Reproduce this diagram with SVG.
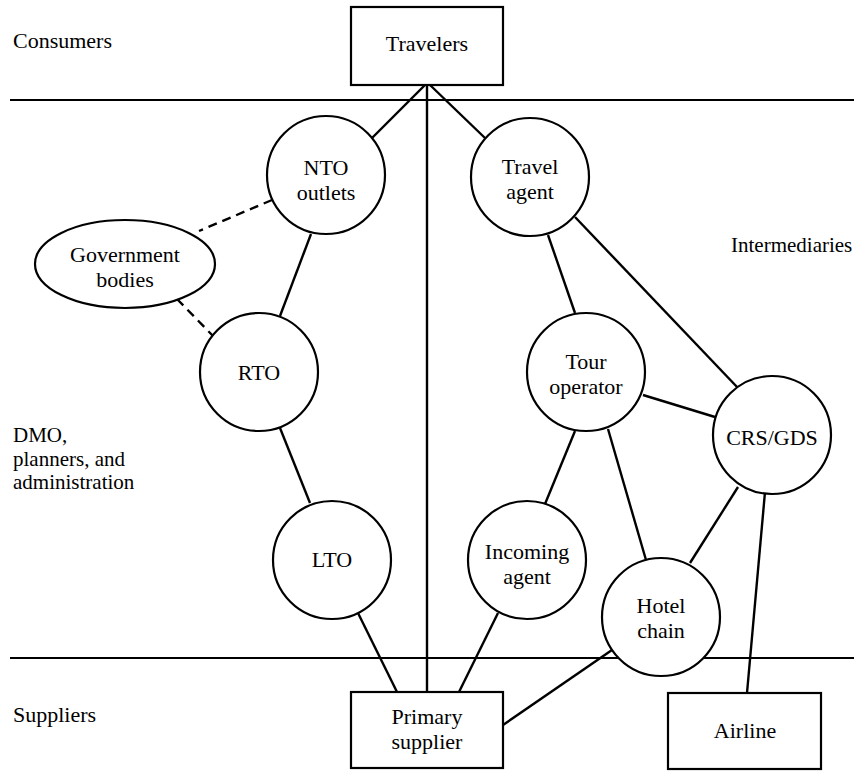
<svg xmlns="http://www.w3.org/2000/svg" width="857" height="772" viewBox="0 0 857 772">
<style>
text{font-family:"Liberation Serif","Times New Roman",serif;font-size:22px;fill:#000}
.c{text-anchor:middle}
.s{font-size:21px}
.n{fill:#fff;stroke:#000;stroke-width:2.2}
.e{stroke:#000;stroke-width:2.4;fill:none}
.d{stroke:#000;stroke-width:2.4;fill:none;stroke-dasharray:9 6}
.b{stroke:#000;stroke-width:2;fill:none}
</style>
<rect width="857" height="772" fill="#fff"/>
<g id="bands">
<line class="b" x1="10" y1="100" x2="854" y2="100"/>
<line class="b" x1="10" y1="658" x2="854" y2="658"/>
<text x="13" y="48">Consumers</text>
<text class="s" x="731" y="252">Intermediaries</text>
<text class="s" x="13" y="442">DMO,</text>
<text class="s" x="13" y="465.5">planners, and</text>
<text class="s" x="13" y="489">administration</text>
<text x="13" y="722">Suppliers</text>
</g>
<g id="connectors">
<line class="e" x1="427" y1="85" x2="427" y2="692"/>
<line class="e" x1="425" y1="85" x2="371" y2="139"/>
<line class="e" x1="430" y1="85" x2="485" y2="138"/>
<line class="d" x1="272" y1="200" x2="199" y2="231"/>
<line class="d" x1="177" y1="299" x2="214" y2="337"/>
<line class="e" x1="311" y1="234" x2="280" y2="316"/>
<line class="e" x1="280" y1="428" x2="310" y2="503"/>
<line class="e" x1="358" y1="613" x2="397" y2="692"/>
<line class="e" x1="548" y1="235" x2="575" y2="313"/>
<line class="e" x1="575" y1="217" x2="738" y2="388"/>
<line class="e" x1="643" y1="395" x2="715" y2="417"/>
<line class="e" x1="575" y1="431" x2="545" y2="504"/>
<line class="e" x1="608" y1="429" x2="646" y2="560"/>
<line class="e" x1="738" y1="487" x2="690" y2="563"/>
<line class="e" x1="765" y1="492" x2="747" y2="693"/>
<line class="e" x1="498" y1="613" x2="459" y2="692"/>
<line class="e" x1="612" y1="650" x2="503" y2="725"/>
</g>
<g id="travelers">
<rect class="n" x="351" y="7" width="152" height="78"/>
<text class="c" x="427" y="51">Travelers</text>
</g>
<g id="nto">
<circle class="n" cx="326" cy="175" r="59"/>
<text class="c" x="326" y="175">NTO</text>
<text class="c" x="326" y="200">outlets</text>
</g>
<g id="travel-agent">
<circle class="n" cx="530" cy="177" r="59"/>
<text class="c" x="530" y="174">Travel</text>
<text class="c" x="530" y="199">agent</text>
</g>
<g id="government">
<ellipse class="n" cx="125" cy="264" rx="90" ry="44"/>
<text class="c" x="125" y="262">Government</text>
<text class="c" x="125" y="287">bodies</text>
</g>
<g id="rto">
<circle class="n" cx="259" cy="372" r="59"/>
<text class="c" x="259" y="380">RTO</text>
</g>
<g id="lto">
<circle class="n" cx="332" cy="560" r="59"/>
<text class="c" x="332" y="567">LTO</text>
</g>
<g id="tour-operator">
<circle class="n" cx="586" cy="372" r="59"/>
<text class="c" x="586" y="369">Tour</text>
<text class="c" x="586" y="394">operator</text>
</g>
<g id="crs-gds">
<circle class="n" cx="772" cy="435" r="59"/>
<text class="c" x="772" y="445">CRS/GDS</text>
</g>
<g id="incoming-agent">
<circle class="n" cx="527" cy="560" r="59"/>
<text class="c" x="527" y="559">Incoming</text>
<text class="c" x="527" y="584">agent</text>
</g>
<g id="hotel-chain">
<circle class="n" cx="661" cy="617" r="59"/>
<text class="c" x="661" y="613">Hotel</text>
<text class="c" x="661" y="638">chain</text>
</g>
<g id="primary-supplier">
<rect class="n" x="351" y="692" width="152" height="76"/>
<text class="c" x="427" y="724">Primary</text>
<text class="c" x="427" y="749">supplier</text>
</g>
<g id="airline">
<rect class="n" x="668" y="693" width="153" height="76"/>
<text class="c" x="745" y="738">Airline</text>
</g>
</svg>
